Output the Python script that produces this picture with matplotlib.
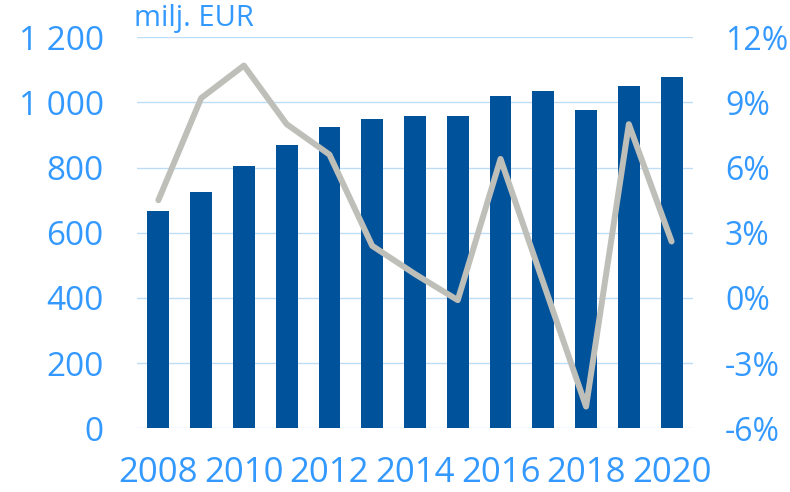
import matplotlib.pyplot as plt

years = [2008, 2009, 2010, 2011, 2012, 2013, 2014, 2015, 2016, 2017, 2018, 2019, 2020]
# liikevaihto, milj. EUR
amount = [666, 726, 804, 869, 926, 949, 959, 958, 1019, 1034, 977, 1051, 1077]
# muutos edellisestä vuodesta, %
change = [4.5, 9.2, 10.7, 8.0, 6.6, 2.4, 1.1, -0.1, 6.4, 0.7, -5.0, 8.0, 2.6]

left_ticks = [0, 200, 400, 600, 800, 1000, 1200]
left_labels = ["0", "200", "400", "600", "800", "1 000", "1 200"]
right_ticks = [-6, -3, 0, 3, 6, 9, 12]
right_labels = ["-6%", "-3%", "0%", "3%", "6%", "9%", "12%"]

txt = "#3399FF"
bar_col = "#00539B"
line_col = "#BFBFBA"
grid_col = "#BDDDF7"

plt.rcParams['font.family'] = ['Open Sans', 'DejaVu Sans']

fig = plt.figure(figsize=(7.9, 4.92), dpi=100)
ax = fig.add_axes([0.1734, 0.1295, 0.7038, 0.7947])

x = list(range(len(years)))
ax.bar(x, amount, width=0.51, color=bar_col, zorder=2)
ax.set_ylim(0, 1200)
ax.set_xlim(-0.5, len(years) - 0.5)
ax.set_yticks(left_ticks)
ax.set_yticklabels(left_labels)
ax.grid(axis="y", color=grid_col, linewidth=1.0, zorder=0)
ax.set_axisbelow(True)

ax.set_xticks(x[::2])
ax.set_xticklabels([str(y) for y in years[::2]])

ax2 = ax.twinx()
ax2.plot(x, change, color=line_col, linewidth=4.3, solid_capstyle="round",
         solid_joinstyle="round", zorder=3)
ax2.set_ylim(-6, 12)
ax2.set_yticks(right_ticks)
ax2.set_yticklabels(right_labels)

for a in (ax, ax2):
    for s in a.spines.values():
        s.set_visible(False)
    a.tick_params(length=0, colors=txt, labelsize=24)
ax.tick_params(axis="y", pad=24)
ax.tick_params(axis="x", pad=20, labelsize=25)
ax2.tick_params(axis="y", pad=23, labelsize=23)

fig.text(0.169, 0.932, "milj. EUR", color=txt, fontsize=21, ha="left", va="bottom")

fig.savefig("out.png", dpi=100)
